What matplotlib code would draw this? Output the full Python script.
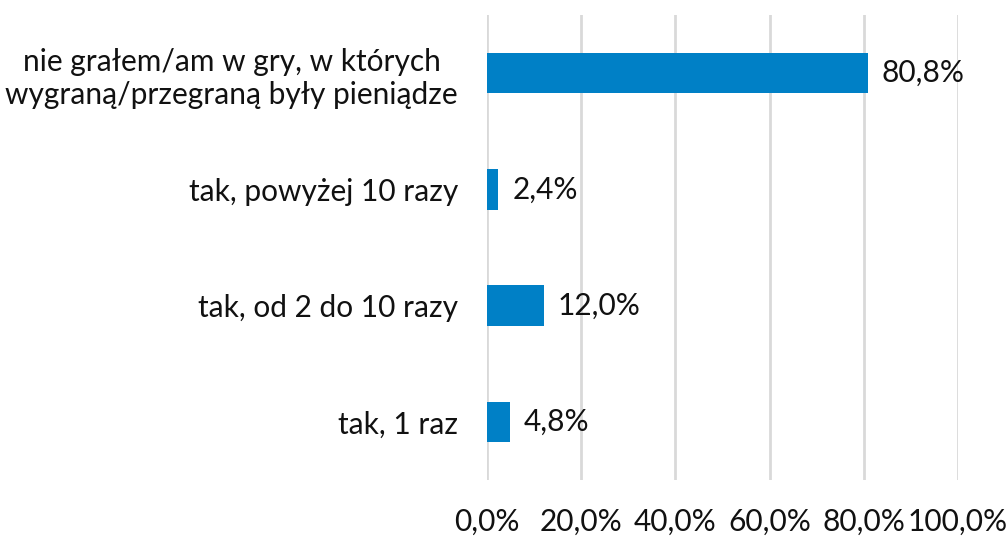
from matplotlib import pyplot as plt
from matplotlib.ticker import FuncFormatter

categories = [
    "tak, 1 raz",
    "tak, od 2 do 10 razy",
    "tak, powyżej 10 razy",
    "nie grałem/am w gry, w których\nwygraną/przegraną były pieniądze",
]
values = [4.8, 12.0, 2.4, 80.8]
ticks = [0, 20, 40, 60, 80, 100]

plt.rcParams["font.family"] = ["Lato", "DejaVu Sans"]

fig = plt.figure(figsize=(10.08, 5.37), dpi=100)
ax = fig.add_axes([487 / 1008, 1 - 480 / 537, (958 - 487) / 1008, 465 / 537])

ax.barh(range(len(values)), values, height=0.35, color="#0080C6", zorder=3)
for i, v in enumerate(values):
    ax.text(v + 3, i, f"{v:.1f}%".replace(".", ","), va="center", ha="left",
            fontsize=21.5, color="#111111")

ax.set_xlim(0, 100)
ax.set_ylim(-0.5, len(values) - 0.5)
ax.set_xticks(ticks)
ax.xaxis.set_major_formatter(FuncFormatter(lambda x, _: f"{x:.1f}%".replace(".", ",")))
ax.set_yticks(range(len(categories)))
ax.set_yticklabels(categories, linespacing=1.25, multialignment="center")
ax.tick_params(axis="x", length=0, pad=20, labelsize=21.5, labelcolor="#111111")
ax.tick_params(axis="y", length=0, pad=21, labelsize=21.5, labelcolor="#111111")
ax.grid(axis="x", color="#D9D9D9", linewidth=2, zorder=0)
for s in ax.spines.values():
    s.set_visible(False)

plt.savefig("out.png", dpi=100)
plt.close()
